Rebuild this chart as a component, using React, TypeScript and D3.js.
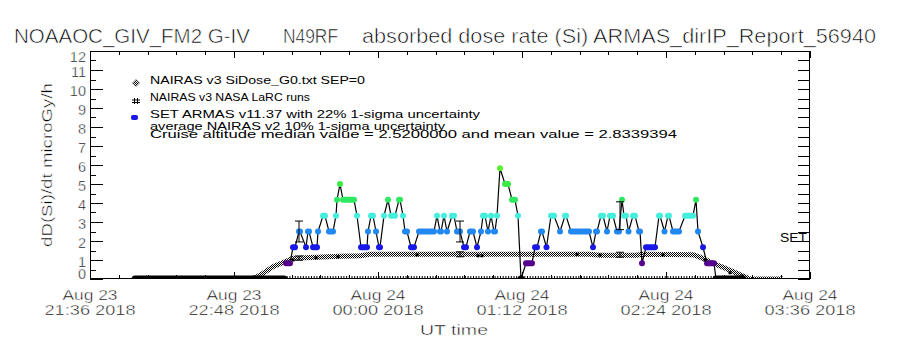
import React from "react";
import * as d3 from "d3";

// ---------- data ----------
const T0 = Date.UTC(2018, 7, 23, 21, 36);
const T1 = Date.UTC(2018, 7, 24, 3, 36);

// x ticks (minutes after 21:36 UT) and their two-line labels
const xTickMinutes = [0, 72, 144, 216, 288, 360];
const xTickDay = ["Aug 23", "Aug 23", "Aug 24", "Aug 24", "Aug 24", "Aug 24"];
const xTickTime = ["21:36 2018", "22:48 2018", "00:00 2018", "01:12 2018", "02:24 2018", "03:36 2018"];
const yTicks = [0, 1, 2, 3, 4, 5, 6, 7, 8, 9, 10, 11, 12];

// NAIRAS v3 SiDose_G0 model profile (minutes after 21:36, microGy/h)
const nairasTime = [22.5, 81.5, 86.5, 91.5, 97.5, 101.5, 105, 113.5, 125, 135, 140, 200, 250, 255, 273, 276, 301.5, 306.5, 311.5, 316.5, 321.5, 326.5, 330, 346.5];
const nairasDose = [0, 0, 0.3, 0.65, 0.91, 1.09, 1.1, 1.15, 1.2, 1.22, 1.3, 1.3, 1.3, 1.25, 1.25, 1.3, 1.28, 1.09, 0.82, 0.62, 0.39, 0.16, 0, 0];

// NAIRAS v3 NASA LaRC runs
const larcTime = [82, 101.5, 113, 124, 163.5, 194, 196, 243.5, 255, 286.5, 307.5, 320, 326];
const larcDose = [0.1, 1.0, 1.12, 1.17, 1.27, 1.22, 1.22, 1.3, 1.26, 1.27, 1.0, 0.33, 0.16];

// SET ARMAS runs: [start minute, end minute, dose]
const armasRuns: [number, number, number][] = [
  [22.5, 97, 0], [98, 100, 0.83], [101.5, 102.5, 1.67], [104.5, 105, 2.5], [108, 108, 1.67],
  [109, 109.5, 2.5], [111.5, 113.5, 1.67], [114, 114, 2.5], [116.5, 117.5, 3.33], [119.5, 121.5, 2.5],
  [123, 123, 3.33], [123.5, 123.5, 4.17], [125, 125, 5.0], [126.5, 132, 4.17], [133.5, 133.5, 3.33],
  [135.5, 138.5, 1.67], [139, 139, 2.5], [140.5, 141.5, 3.33], [143, 143, 2.5], [144.5, 145, 1.67],
  [147, 147, 3.33], [149, 149, 4.17], [150.5, 152.5, 3.33], [154.5, 155, 4.17], [156.5, 156.5, 3.33],
  [157.5, 158.5, 2.5], [160.5, 162, 1.67], [164.5, 172, 2.5], [173.5, 173.5, 3.33], [175, 175.5, 2.5],
  [177, 177, 3.33], [178.5, 178.5, 2.5], [181, 182, 3.33], [183.5, 185, 2.5], [187, 188, 1.67],
  [190, 191.5, 2.5], [193.5, 193.5, 1.67], [195.5, 195.5, 2.5], [196.5, 197.5, 3.33], [199, 199, 2.5],
  [200.5, 200.5, 3.33], [202, 202.5, 2.5], [203.5, 203.5, 3.33], [205, 205, 5.83], [207.5, 209, 5.0],
  [211, 212.5, 4.17], [214, 214, 3.33], [215.5, 215.5, 0], [218, 221, 0.83], [222.5, 223.5, 1.67],
  [225.5, 226, 2.5], [228.25, 228.25, 1.67], [230.5, 232, 3.33], [235, 235, 2.5], [237.5, 238, 3.33],
  [240.5, 249.5, 2.5], [251.5, 251.5, 1.67], [253, 253.5, 2.5], [255.5, 256.5, 3.33], [258.5, 258.5, 2.5],
  [260, 261.5, 3.33], [263.5, 264.5, 2.5], [266, 266, 4.17], [267, 268, 3.33], [269.25, 269.25, 2.5],
  [271.5, 272.5, 3.33], [274.5, 275, 2.5], [276, 276, 0.83], [278, 282.5, 1.67], [284.5, 285, 3.33],
  [287.25, 287.25, 2.5], [289, 289.5, 3.33], [291.5, 294.5, 2.5], [297.5, 301.5, 3.33], [303, 303, 4.17],
  [304, 304, 2.5], [306.5, 306.5, 1.67], [308.5, 312, 0.83], [313, 326.5, 0],
];

// flat zero-level marks while airborne
const zeroMarkSpan = [97, 313];

// error bars
const errTime = [104.5, 185, 265];
const armasErrDose = [2.5, 2.5, 3.33];
const nairasErrDose = [1.1, 1.3, 1.28];
const armasUnc = 0.22;
const nairasUnc = 0.1;

const legendLabels = [
  "NAIRAS v3 SiDose_G0.txt SEP=0",
  "NAIRAS v3 NASA LaRC runs",
  "SET ARMAS v11.37 with 22% 1-sigma uncertainty",
  "average NAIRAS v2 10% 1-sigma uncertainty",
  "Cruise altitude median value = 2.5200000 and mean value = 2.8339394",
];

const doseThresholds = [0.4, 1.2, 2.1, 2.9, 3.7, 4.6, 5.4];
const doseColors = ["#000000", "#560090", "#1818e8", "#2088f0", "#44eedc", "#2ee860", "#38ec44", "#5cf030"];

const FONT = "'Liberation Sans', Arial, sans-serif";

export default function App() {
  const L = 90, R = 810, TOP = 51, BOT = 279;
  const x = d3.scaleUtc().domain([new Date(T0), new Date(T1)]).range([L, R]);
  const y = d3.scaleLinear().domain([0, 12]).range([BOT, TOP]);
  const tm = (m: number) => new Date(T0 + m * 60000);
  const color = d3.scaleThreshold<number, string>().domain(doseThresholds).range(doseColors);

  const nairasLine = d3.line<number>().x((_, i) => x(tm(nairasTime[i]))).y((d) => y(d));
  const armasPts: [number, number][] = [];
  armasRuns.forEach(([a, b, v]) => {
    armasPts.push([x(tm(a)), y(v)]);
    armasPts.push([x(tm(b)), y(v)]);
  });
  const connector = d3.line()(armasPts.slice(2)) || "";

  const minorX = d3.range(0, 360.01, 14.4);
  const minorY = d3.range(0, 12.01, 0.5);

  const titleSegs = [
    { t: "NOAAOC_GIV_FM2 G-IV", x0: 14, x1: 250 },
    { t: "N49RF", x0: 283, x1: 338 },
    { t: "absorbed dose rate (Si) ARMAS_dirIP_Report_56940", x0: 362, x1: 876 },
  ];
  const legendY = [84, 101, 118, 130, 138];
  const legendW = [215, 160, 330, 295, 527];
  const thin = { stroke: "#fff", strokeWidth: 0.45 } as const;

  return (
    <svg width={900} height={350} style={{ position: "absolute", left: 0, top: 0, background: "#fff" }} fontFamily={FONT}>
      <defs>
        <pattern id="dither" width="2" height="2" patternUnits="userSpaceOnUse">
          <rect x="0" y="0" width="2" height="2" fill="#fff" />
          <rect x="0" y="0" width="1" height="1" fill="#000" />
          <rect x="1" y="1" width="1" height="1" fill="#000" />
        </pattern>
        <clipPath id="plotclip">
          <rect x={L} y={TOP} width={R - L} height={BOT - TOP} />
        </clipPath>
      </defs>
      <rect x={0} y={0} width={900} height={350} fill="#fff" />

      {/* title */}
      {titleSegs.map((s, i) => (
        <text key={i} x={s.x0} y={43} fontSize={19.5} textLength={s.x1 - s.x0} lengthAdjust="spacingAndGlyphs" fill="#000" {...thin} strokeWidth={0.6}>
          {s.t}
        </text>
      ))}

      {/* data */}
      <g clipPath="url(#plotclip)">
        <path d={nairasLine(nairasDose) || ""} fill="none" stroke="url(#dither)" strokeWidth={5} />
        <line x1={x(tm(zeroMarkSpan[0]))} x2={x(tm(zeroMarkSpan[1]))} y1={y(0) - 1.5} y2={y(0) - 1.5} stroke="#000" strokeWidth={3} strokeDasharray="1 1.7" />
        <path d={connector} fill="none" stroke="#000" strokeWidth={1.2} />
        {armasRuns.map(([a, b, v], i) => (
          <line key={i} x1={x(tm(a))} x2={x(tm(b))} y1={y(v)} y2={y(v)} stroke={color(v)} strokeWidth={v === 0 ? 7 : 6} strokeLinecap="round" />
        ))}
        {larcTime.map((t, i) => (
          <rect key={i} x={x(tm(t)) - 1.5} y={y(larcDose[i]) - 1.5} width={3} height={3} fill="#000" />
        ))}
        {errTime.map((t, i) => {
          const cx = x(tm(t));
          const bars = [
            [armasErrDose[i] * (1 - armasUnc), armasErrDose[i] * (1 + armasUnc)],
            [nairasErrDose[i] * (1 - nairasUnc), nairasErrDose[i] * (1 + nairasUnc)],
          ];
          return (
            <g key={i} stroke="#000" strokeWidth={1}>
              {bars.map(([lo, hi], j) => (
                <g key={j}>
                  <line x1={cx} x2={cx} y1={y(lo)} y2={y(hi)} />
                  <line x1={cx - 4} x2={cx + 4} y1={y(lo)} y2={y(lo)} />
                  <line x1={cx - 4} x2={cx + 4} y1={y(hi)} y2={y(hi)} />
                </g>
              ))}
            </g>
          );
        })}
      </g>

      {/* frame */}
      <rect x={L + 0.5} y={TOP + 0.5} width={R - L - 1} height={BOT - TOP - 1} fill="none" stroke="#000" strokeWidth={1} />

      {/* x ticks */}
      {minorX.map((m, i) => {
        const major = xTickMinutes.includes(Math.round(m * 10) / 10);
        const xx = Math.round(x(tm(m))) + 0.5;
        const len = major ? 7 : 4;
        return (
          <g key={i} stroke="#000">
            <line x1={xx} x2={xx} y1={BOT} y2={BOT - len} />
            <line x1={xx} x2={xx} y1={TOP} y2={TOP + len} />
          </g>
        );
      })}
      {xTickMinutes.map((m, i) => (
        <g key={i} {...thin}>
          <text x={x(tm(m))} y={300} fontSize={14} textAnchor="middle" textLength={55} lengthAdjust="spacingAndGlyphs">
            {xTickDay[i]}
          </text>
          <text x={x(tm(m))} y={315} fontSize={14} textAnchor="middle" textLength={91} lengthAdjust="spacingAndGlyphs">
            {xTickTime[i]}
          </text>
        </g>
      ))}
      <text x={454} y={335} fontSize={14} textAnchor="middle" textLength={68} lengthAdjust="spacingAndGlyphs" {...thin}>UT time</text>

      {/* y ticks */}
      {minorY.map((v, i) => {
        const yy = Math.round(y(v)) + 0.5;
        const major = Number.isInteger(v);
        return (
          <g key={i} stroke="#000">
            <line x1={L} x2={L + (major ? 13 : 6)} y1={yy} y2={yy} />
            <line x1={R} x2={R - 12} y1={yy} y2={yy} />
          </g>
        );
      })}
      {yTicks.map((v) => {
        const cy = Math.min(273.5, Math.max(57, y(v) + 1.5));
        return (
          <text key={v} x={86} y={cy + 5} fontSize={14.5} textAnchor="end" {...thin}>
            {v}
          </text>
        );
      })}
      <text transform="translate(52,165) rotate(-90)" fontSize={15} textAnchor="middle" textLength={164} lengthAdjust="spacingAndGlyphs" {...thin}>
        dD(Si)/dt microGy/h
      </text>
      <text x={807} y={242} fontSize={12.5} textAnchor="end" textLength={27} lengthAdjust="spacingAndGlyphs">SET</text>

      {/* legend */}
      <path d="M136,79.5 L139.5,83 L136,86.5 L132.5,83 Z" fill="url(#dither)" stroke="#444" strokeWidth={0.6} />
      <g stroke="#000" strokeWidth={1}>
        <line x1={134.5} x2={134.5} y1={98} y2={104} />
        <line x1={137.5} x2={137.5} y1={98} y2={104} />
        <line x1={132} x2={140} y1={100} y2={100} />
        <line x1={132} x2={140} y1={102.5} y2={102.5} />
      </g>
      <rect x={131} y={115} width={7} height={5} rx={2} fill="#1818e8" />
      {legendLabels.map((t, i) => (
        <text key={i} x={150} y={legendY[i]} fontSize={11.5} textLength={legendW[i]} lengthAdjust="spacingAndGlyphs" fill="#000">
          {t}
        </text>
      ))}
    </svg>
  );
}
